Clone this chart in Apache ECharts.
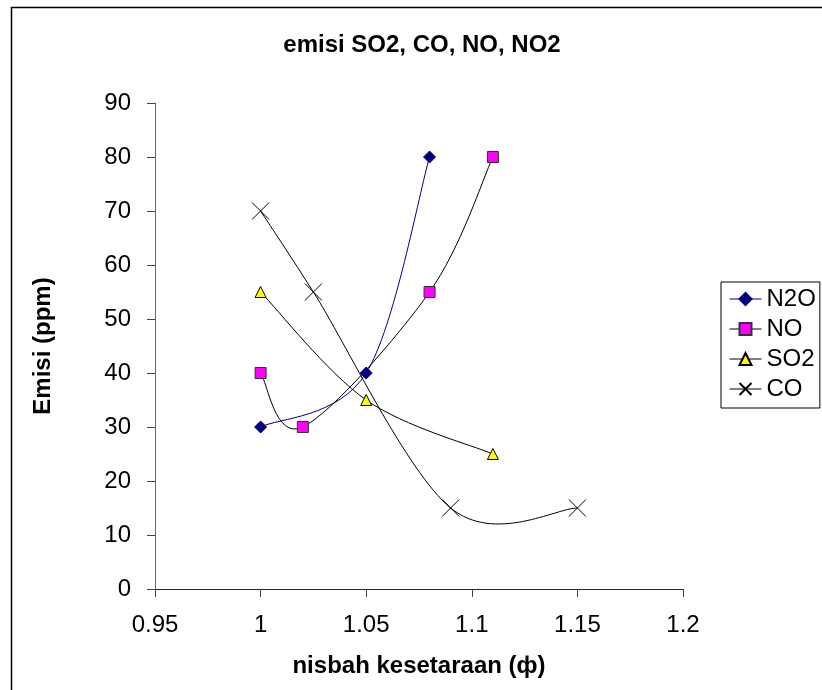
<!DOCTYPE html>
<html><head><meta charset="utf-8">
<script src="https://cdn.jsdelivr.net/npm/echarts@6/dist/echarts.min.js"></script>
<style>html,body{margin:0;padding:0;background:#fff}#c{width:822px;height:690px}</style>
</head><body><div id="c"></div>
<script>
const titleText = 'emisi SO2, CO, NO, NO2';
const xName = 'nisbah kesetaraan (ф)';
const yName = 'Emisi (ppm)';
const seriesNames = ['N2O', 'NO', 'SO2', 'CO'];
const n2oX = [1, 1.05, 1.08];
const n2oY = [30, 40, 80];
const noX = [1, 1.02, 1.08, 1.11];
const noY = [40, 30, 55, 80];
const so2X = [1, 1.05, 1.11];
const so2Y = [55, 35, 25];
const coX = [1, 1.025, 1.09, 1.15];
const coY = [70, 55, 15, 15];

const pairs = (xs, ys) => xs.map((x, i) => [x, ys[i]]);
const font = 'Liberation Sans, Arial, sans-serif';
const lineColors = ['#000080', '#000', '#000', '#000'];

// Excel-style smoothed curve (Bezier, control points at 1/6 of neighbour span),
// positioned through the chart's own axes with api.coord.
function curveRenderer(xs, ys, color) {
  return function (params, api) {
    if (params.dataIndex !== 0) return null;
    const P = xs.map((x, i) => api.coord([x, ys[i]]));
    const n = P.length;
    const children = [];
    for (let i = 0; i < n - 1; i++) {
      const p0 = P[Math.max(i - 1, 0)], p1 = P[i], p2 = P[i + 1], p3 = P[Math.min(i + 2, n - 1)];
      children.push({
        type: 'bezierCurve',
        shape: {
          x1: p1[0], y1: p1[1], x2: p2[0], y2: p2[1],
          cpx1: p1[0] + (p2[0] - p0[0]) / 6, cpy1: p1[1] + (p2[1] - p0[1]) / 6,
          cpx2: p2[0] - (p3[0] - p1[0]) / 6, cpy2: p2[1] - (p3[1] - p1[1]) / 6
        },
        style: {fill: null, stroke: color, lineWidth: 1}
      });
    }
    return {type: 'group', children: children};
  };
}

const markerSeries = [
  {name: 'N2O', type: 'line', data: pairs(n2oX, n2oY), symbol: 'diamond', symbolSize: 12,
    itemStyle: {color: '#000080', borderColor: '#000080', borderWidth: 1}},
  {name: 'NO', type: 'line', data: pairs(noX, noY), symbol: 'rect', symbolSize: 11,
    itemStyle: {color: '#FF00FF', borderColor: '#333', borderWidth: 1}},
  {name: 'SO2', type: 'line', data: pairs(so2X, so2Y), symbol: 'triangle', symbolSize: 11,
    itemStyle: {color: '#FFFF00', borderColor: '#000', borderWidth: 1}},
  {name: 'CO', type: 'line', data: pairs(coX, coY), symbol: 'path://M0,0L10,10M10,0L0,10', symbolSize: 17,
    itemStyle: {color: 'none', borderColor: '#000', borderWidth: 1}}
].map((s, i) => Object.assign(s, {z: 3, lineStyle: {color: lineColors[i], width: 1, opacity: 0}}));

const curveData = [[n2oX, n2oY], [noX, noY], [so2X, so2Y], [coX, coY]];
const curveSeries = curveData.map((d, i) => ({
  name: seriesNames[i] + ' curve', type: 'custom', z: 1, silent: true,
  renderItem: curveRenderer(d[0], d[1], lineColors[i]),
  data: pairs(d[0], d[1])
}));

const chart = echarts.init(document.getElementById('c'), null, {renderer: 'canvas'});
chart.setOption({
  animation: false,
  backgroundColor: '#fff',
  title: {text: titleText, left: 417, top: 28, textAlign: 'center',
    textStyle: {fontFamily: font, fontSize: 24, fontWeight: 'bold', color: '#000'}},
  graphic: [{type: 'rect', shape: {x: 11.5, y: 7.5, width: 830, height: 700},
    style: {fill: 'none', stroke: '#000', lineWidth: 1.5}, silent: true}],
  grid: {left: 155, right: 139, top: 103, bottom: 101, containLabel: false},
  legend: {
    orient: 'vertical', left: 721, top: 282,
    padding: [5, 4, 7, 8], itemGap: 6, itemWidth: 32, itemHeight: 15,
    borderColor: '#000', borderWidth: 1,
    textStyle: {fontFamily: font, fontSize: 24, color: '#000'},
    data: seriesNames.map((n, i) => ({name: n, lineStyle: {color: lineColors[i], width: 1, opacity: 1}}))
  },
  xAxis: {
    type: 'value', min: 0.95, max: 1.2, interval: 0.05,
    name: xName, nameLocation: 'middle', nameGap: 65,
    nameTextStyle: {fontFamily: font, fontSize: 24, fontWeight: 'bold', color: '#000'},
    axisLine: {onZero: false, lineStyle: {color: '#222', width: 1}},
    axisTick: {length: 8, lineStyle: {color: '#444'}},
    axisLabel: {fontFamily: font, fontSize: 24, color: '#000', margin: 24,
      formatter: v => String(parseFloat(v.toFixed(2)))},
    splitLine: {show: false}
  },
  yAxis: {
    type: 'value', min: 0, max: 90, interval: 10,
    name: yName, nameLocation: 'middle', nameGap: 100, nameRotate: 90,
    nameTextStyle: {fontFamily: font, fontSize: 24, fontWeight: 'bold', color: '#000'},
    axisLine: {show: true, lineStyle: {color: '#666', width: 1}},
    axisTick: {show: true, length: 8, lineStyle: {color: '#444'}},
    axisLabel: {fontFamily: font, fontSize: 24, color: '#000', margin: 24},
    splitLine: {show: false}
  },
  series: markerSeries.concat(curveSeries)
});
</script></body></html>
